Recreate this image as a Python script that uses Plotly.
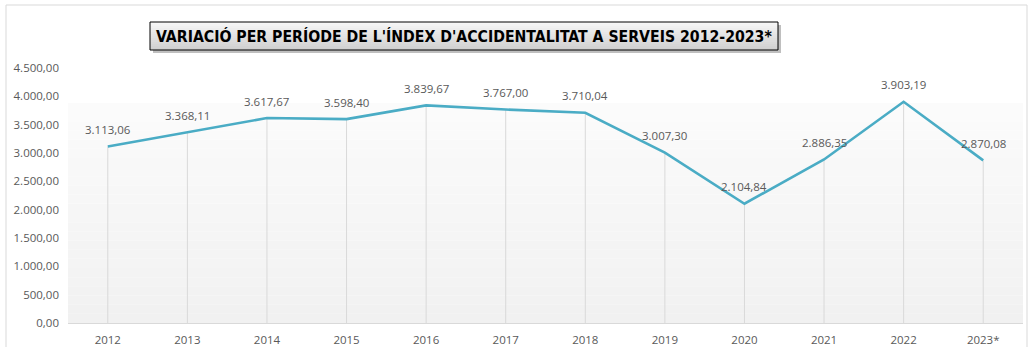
import plotly.graph_objects as go

# Accident index per period, 2012-2023 (2023 provisional)
years = ["2012", "2013", "2014", "2015", "2016", "2017", "2018", "2019", "2020", "2021", "2022", "2023*"]
index_values = [3113.06, 3368.11, 3617.67, 3598.40, 3839.67, 3767.00, 3710.04, 3007.30, 2104.84, 2886.35, 3903.19, 2870.08]
y_tick_values = [0, 500, 1000, 1500, 2000, 2500, 3000, 3500, 4000, 4500]

title_text = "VARIACIÓ PER PERÍODE DE L'ÍNDEX D'ACCIDENTALITAT A SERVEIS 2012-2023*"

LINE_COLOR = "#4aacc5"
TEXT_GREY = "#595959"
FONT = "Open Sans"


def ca_number(v):
    """Format a number as 1.234,56 (Catalan style)."""
    s = f"{v:,.2f}"
    return s.replace(",", "X").replace(".", ",").replace("X", ".")


fig = go.Figure()

# Drop lines from each point to the category axis
fig.add_trace(go.Scatter(
    x=years, y=index_values, mode="markers",
    marker=dict(size=0.1, color="rgba(0,0,0,0)"),
    error_y=dict(type="data", symmetric=False, array=[0] * len(index_values),
                 arrayminus=index_values, color="#d9d9d9", thickness=1, width=0),
    hoverinfo="skip", showlegend=False,
))

# Main series
fig.add_trace(go.Scatter(
    x=years, y=index_values, mode="lines",
    line=dict(color=LINE_COLOR, width=2.6),
    showlegend=False,
))

# Value labels above each point (category position given by index)
for i, v in enumerate(index_values):
    fig.add_annotation(x=i, y=v, text=ca_number(v), showarrow=False,
                       yshift=17, font=dict(family=FONT, size=11.5, color=TEXT_GREY))

shapes = []
# Plot-area background: soft vertical gradient
n = 24
top_frac = 0.863
for i in range(n):
    f0 = top_frac * i / n
    f1 = top_frac * (i + 1) / n
    t = i / (n - 1)
    c = int(round(241 + (251 - 241) * t))
    shapes.append(dict(type="rect", xref="x domain", yref="y domain",
                       x0=0, x1=1, y0=f0, y1=f1, line=dict(width=0),
                       fillcolor=f"rgb({c},{c},{c})", layer="below"))

# Chart outer border
shapes.append(dict(type="rect", xref="paper", yref="paper",
                   x0=-62 / 955, x1=1 + 4 / 955, y0=-30 / 255, y1=1 + 63 / 255,
                   line=dict(color="#d9d9d9", width=1), fillcolor="rgba(0,0,0,0)", layer="below"))

# Title box: shadow, gradient fill, border
W, H = 955.0, 255.0
L, T = 68.0, 68.0


def px_x(px):
    return (px - L) / W


def px_y(py):
    return 1 - (py - T) / H


bx0, bx1, by0, by1 = 150, 778, 22, 50
shapes.append(dict(type="rect", xref="paper", yref="paper",
                   x0=px_x(bx0 + 3), x1=px_x(bx1 + 3), y0=px_y(by1 + 3), y1=px_y(by0 + 3),
                   line=dict(width=0), fillcolor="rgba(0,0,0,0.25)"))
m = 14
for i in range(m):
    ya = by0 + (by1 - by0) * i / m
    yb = by0 + (by1 - by0) * (i + 1) / m
    t = i / (m - 1)
    c = int(round(246 - (246 - 208) * t))
    shapes.append(dict(type="rect", xref="paper", yref="paper",
                       x0=px_x(bx0), x1=px_x(bx1), y0=px_y(yb), y1=px_y(ya),
                       line=dict(width=0), fillcolor=f"rgb({c},{c},{c})"))
shapes.append(dict(type="rect", xref="paper", yref="paper",
                   x0=px_x(bx0), x1=px_x(bx1), y0=px_y(by1), y1=px_y(by0),
                   line=dict(color="#000000", width=1), fillcolor="rgba(0,0,0,0)"))

fig.add_annotation(xref="paper", yref="paper", x=px_x((bx0 + bx1) / 2), y=px_y((by0 + by1) / 2),
                   text=f"<b>{title_text}</b>", showarrow=False, xanchor="center", yanchor="middle",
                   font=dict(family="DejaVu Sans Condensed", size=15.7, color="#000000"))

fig.update_layout(
    width=1030, height=347,
    margin=dict(l=68, r=7, t=68, b=24, autoexpand=False),
    paper_bgcolor="#ffffff", plot_bgcolor="#ffffff",
    separators=",.",
    shapes=shapes,
    font=dict(family=FONT, size=11.5, color=TEXT_GREY),
    xaxis=dict(type="category", range=[-0.5, len(years) - 0.5], autorange=False,
               automargin=False,
               showgrid=False, showline=True, linecolor="#d9d9d9", linewidth=1,
               ticks="", tickfont=dict(size=11.5, color=TEXT_GREY), zeroline=False,
               ticklabelstandoff=6),
    yaxis=dict(range=[0, 4500], autorange=False, automargin=False,
               tickvals=y_tick_values, tickformat=",.2f",
               showgrid=False, zeroline=False, showline=False, ticks="",
               tickfont=dict(size=11.5, color=TEXT_GREY), ticklabelstandoff=8),
)

fig.write_html("out.html")
